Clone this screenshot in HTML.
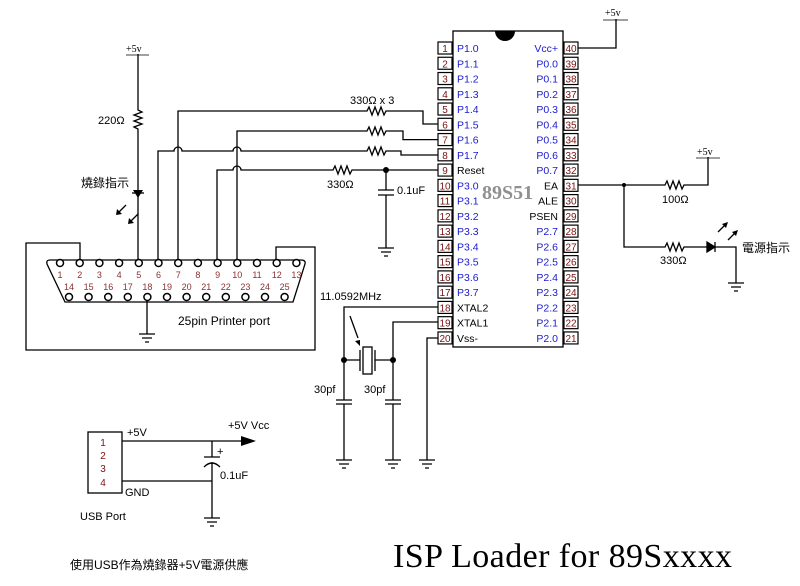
<!DOCTYPE html>
<html><head><meta charset="utf-8"><style>
body{margin:0;background:#fff;width:800px;height:586px;overflow:hidden}
svg{display:block}
text{font-family:"Liberation Sans","Noto Sans CJK TC",sans-serif}
.pn{font-size:10px;fill:#7a1010;text-anchor:middle}
.bl{font-size:10.5px;fill:#1a1ad0}
.bk{font-size:10.5px;fill:#000}
.cn{font-size:9px;fill:#8a3030;text-anchor:middle}
</style></head><body>
<svg width="800" height="586" viewBox="0 0 800 586" xmlns="http://www.w3.org/2000/svg">
<g fill="none" stroke="#000" stroke-width="1.3">
<rect x="453" y="31" width="110" height="316"/>
</g>
<path d="M495 31 A10 10 0 0 0 515 31 Z" fill="#000"/>
<g id="pins" stroke="#000" stroke-width="1.2" fill="#fff"></g>
<text x="482" y="199" font-weight="bold" font-size="20" fill="#909090" style="font-family:'Liberation Serif',serif">89S51</text>

<g fill="none" stroke="#000" stroke-width="1.3">
<path d="M578 48 H616 V19"/>
<path d="M603 20 H628" stroke-width="0.8"/>
<path d="M578 185 H665 l2 -4 l3 8 l3 -8 l3 8 l3 -8 l3 8 l2 -4 H708 V157"/>
<path d="M696 158 H720" stroke-width="0.8"/>
<path d="M624 185 V247 H665 l2 -4 l3 8 l3 -8 l3 8 l3 -8 l3 8 l2 -4 H707"/>
<path d="M715 247 H736 V283"/>
<path d="M728 283 H744 M731 287 H741 M734 291 H738"/>
<path d="M718 232 l8 -8 M728 240 l8 -8"/>
<path d="M178 263 V111 H367 l2 -4 l3 8 l3 -8 l3 8 l3 -8 l3 8 l2 -4 H423 V124 H438"/>
<path d="M237 263 V131 H367 l2 -4 l3 8 l3 -8 l3 8 l3 -8 l3 8 l2 -4 H403 V139.6 H438"/>
<path d="M158 263 V151 H174 a4 4 0 0 1 8 0 H233 a4 4 0 0 1 8 0 H367 l2 -4 l3 8 l3 -8 l3 8 l3 -8 l3 8 l2 -4 H401 V155 H438"/>
<path d="M217 263 V170 H233 a4 4 0 0 1 8 0 H333 l2 -4 l3 8 l3 -8 l3 8 l3 -8 l3 8 l2 -4 H438"/>
<path d="M386 170 V190 M378 190 H394 M378 195 H394 M386 195 V248 M378 248 H394 M381 252 H391 M384 256 H388"/>
<path d="M138 54 V110 l4 2 l-8 3 l8 3 l-8 3 l8 3 l-8 3 l4 2 V263"/>
<path d="M126 55 H149" stroke-width="0.8"/>
<path d="M132 193 H144"/>
<path d="M126 205 l-8 8 M138 214 l-8 8"/>
<path d="M80 263 V243 H26 V350 H315 V247 H276 V263"/>
<path d="M50 260 H301 Q306 260 305 264 L293 302 H65 L47 264 Q46 260 50 260 Z"/>
<path d="M147 297 V334 M139 334 H155 M142 338 H152 M145 342 H149"/>
<path d="M438 307 H344 V400 M336 400 H352 M336 404 H352 M344 404 V460 M336 460 H352 M339 464 H349 M342 468 H346"/>
<path d="M438 322 H393 V400 M385 400 H401 M385 404 H401 M393 404 V460 M385 460 H401 M388 464 H398 M391 468 H395"/>
<path d="M438 338 H427 V460 M419 460 H435 M422 464 H432 M425 468 H429"/>
<path d="M344 360 H360 M360 350 V371 M375 350 V371 M375 360 H393"/>
<rect x="363" y="347" width="9" height="27"/>
<path d="M350 316 L358 338"/>
<rect x="88" y="432" width="34" height="61"/>
<path d="M122 441 H243 M122 481 H212 M212 441 V457 M204 457 H220 M204 467 Q212 459 220 467 M212 462 V518 M204 518 H220 M207 522 H217 M210 526 H214"/>
</g>
<path d="M241 436 L256 441 L241 446 Z"/>
<path d="M133 190 H143 L138 198 Z"/>
<path d="M707 242 V252 L715 247 Z M715 242 V252" stroke="#000" stroke-width="1.3"/>
<path d="M116 215 L122 214 L117 209 Z M128 224 L134 223 L129 218 Z"/>
<path d="M728 222 L722 224 L726 228 Z M738 230 L732 232 L736 236 Z"/>
<path d="M360 346 l-5 -5 l5 -1 Z"/>
<circle cx="624" cy="185" r="2"/><circle cx="386" cy="170" r="3"/>
<circle cx="344" cy="360" r="3"/><circle cx="393" cy="360" r="3"/>

<g id="conn" fill="#fff" stroke="#000" stroke-width="1.5"></g>

<text x="605" y="16" font-size="10" style="font-family:'Liberation Serif',serif">+5v</text>
<text x="697" y="155" font-size="10" style="font-family:'Liberation Serif',serif">+5v</text>
<text x="126" y="52" font-size="10" style="font-family:'Liberation Serif',serif">+5v</text>
<text x="662" y="203" font-size="11">100Ω</text>
<text x="660" y="264" font-size="11">330Ω</text>
<text x="742" y="252" font-size="12">電源指示</text>
<text x="350" y="104" font-size="11">330Ω x 3</text>
<text x="327" y="188" font-size="11">330Ω</text>
<text x="397" y="194" font-size="11">0.1uF</text>
<text x="98" y="124" font-size="11">220Ω</text>
<text x="81" y="187" font-size="12">燒錄指示</text>
<text x="178" y="325" font-size="12">25pin Printer port</text>
<text x="320" y="300" font-size="11">11.0592MHz</text>
<text x="314" y="393" font-size="11">30pf</text>
<text x="364" y="393" font-size="11">30pf</text>
<text x="127" y="436" font-size="11">+5V</text>
<text x="228" y="429" font-size="11">+5V Vcc</text>
<text x="217" y="455" font-size="11">+</text>
<text x="220" y="479" font-size="11">0.1uF</text>
<text x="125" y="496" font-size="11">GND</text>
<text x="80" y="520" font-size="11">USB Port</text>
<text class="pn" x="103" y="446">1</text><text class="pn" x="103" y="459">2</text><text class="pn" x="103" y="472">3</text><text class="pn" x="103" y="486">4</text>
<text x="70" y="569" font-size="12">使用USB作為燒錄器+5V電源供應</text>
<text x="393" y="567" font-size="34" textLength="339" style="font-family:'Liberation Serif',serif">ISP Loader for 89Sxxxx</text>
</svg>
<script>
var ns="http://www.w3.org/2000/svg",svg=document.querySelector('svg');
function el(t,a,txt,p){var e=document.createElementNS(ns,t);for(var k in a)e.setAttribute(k,a[k]);if(txt!=null)e.textContent=txt;(p||svg).appendChild(e);return e;}
var pins=document.getElementById('pins');
var L=["P1.0","P1.1","P1.2","P1.3","P1.4","P1.5","P1.6","P1.7","Reset","P3.0","P3.1","P3.2","P3.3","P3.4","P3.5","P3.6","P3.7","XTAL2","XTAL1","Vss-"];
var R=["Vcc+","P0.0","P0.1","P0.2","P0.3","P0.4","P0.5","P0.6","P0.7","EA","ALE","PSEN","P2.7","P2.6","P2.5","P2.4","P2.3","P2.2","P2.1","P2.0"];
for(var i=0;i<20;i++){var y=48+i*15.26;
 el('rect',{x:438,y:y-6,width:14,height:12},null,pins);
 el('rect',{x:564,y:y-6,width:14,height:12},null,pins);
 el('text',{x:445,y:y+4,'class':'pn'},String(i+1));
 el('text',{x:571,y:y+4,'class':'pn'},String(40-i));
 var lc=(i==8||i==17||i==18||i==19)?'bk':'bl';
 var t=el('text',{x:457,y:y+4,'class':lc},L[i]); if(i==19)t.setAttribute('fill','#1a8a1a');
 var rc=(i>=9&&i<=11)?'bk':'bl';
 var t2=el('text',{x:558,y:y+4,'class':rc,'text-anchor':'end'},R[i]); if(i==0)t2.setAttribute('fill','#d01010');
}
var conn=document.getElementById('conn');
for(var n=1;n<=13;n++){var x=60+(n-1)*19.7;el('circle',{cx:x,cy:263,r:3.5},null,conn);el('text',{x:x,y:278,'class':'cn'},String(n));}
for(var n=14;n<=25;n++){var x=69+(n-14)*19.6;el('circle',{cx:x,cy:297,r:3.5},null,conn);el('text',{x:x,y:290,'class':'cn'},String(n));}
</script>
</body></html>
